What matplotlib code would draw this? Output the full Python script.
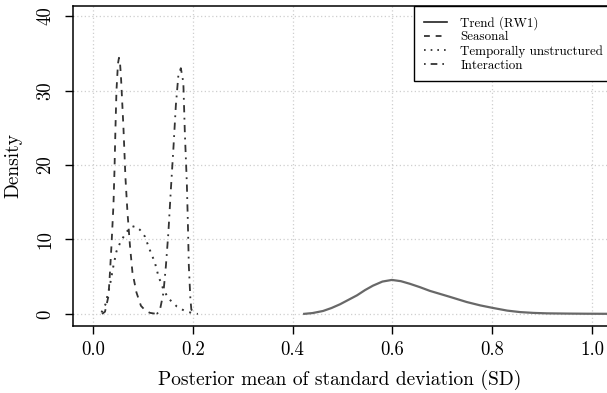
import matplotlib
matplotlib.use("Agg")
import matplotlib.pyplot as plt
from matplotlib.lines import Line2D

plt.rcParams['font.family'] = ['cmr10', 'DejaVu Serif']
plt.rcParams['axes.formatter.use_mathtext'] = True

# posterior densities of the component standard deviations
trend_x = [0.421, 0.44, 0.461, 0.478, 0.495, 0.512, 0.529, 0.545, 0.561, 0.58, 0.599,
           0.617, 0.635, 0.655, 0.675, 0.695, 0.715, 0.749, 0.776, 0.802, 0.83,
           0.856, 0.883, 0.91, 0.95, 0.99, 1.03]
trend_y = [0.0, 0.12, 0.4, 0.8, 1.3, 1.9, 2.5, 3.2, 3.8, 4.35, 4.57,
           4.4, 4.05, 3.6, 3.1, 2.7, 2.3, 1.6, 1.15, 0.8, 0.45,
           0.25, 0.14, 0.08, 0.05, 0.03, 0.02]

seasonal_x = [0.018, 0.024, 0.031, 0.034, 0.037, 0.041, 0.043, 0.045, 0.047, 0.05,
              0.052, 0.054, 0.056, 0.061, 0.065, 0.069, 0.074, 0.079, 0.087,
              0.096, 0.105, 0.114, 0.128]
seasonal_y = [0.0, 0.3, 2.4, 5.6, 9.2, 14.7, 19.2, 25.0, 30.0, 33.6,
              34.4, 33.8, 31.9, 25.0, 18.3, 13.7, 9.2, 5.6, 2.9,
              1.1, 0.45, 0.15, 0.0]

unstructured_x = [0.017, 0.025, 0.034, 0.041, 0.047, 0.054, 0.064, 0.074, 0.084,
                  0.094, 0.104, 0.112, 0.124, 0.131, 0.141, 0.151, 0.168,
                  0.184, 0.201, 0.21]
unstructured_y = [0.2, 1.3, 3.9, 6.5, 8.4, 9.5, 10.7, 11.6, 11.8,
                  11.3, 10.4, 8.9, 6.9, 5.1, 3.3, 2.1, 1.0,
                  0.4, 0.08, 0.0]

interaction_x = [0.128, 0.134, 0.141, 0.146, 0.151, 0.156, 0.161, 0.166, 0.171,
                 0.176, 0.181, 0.184, 0.188, 0.19, 0.192, 0.195, 0.197, 0.204]
interaction_y = [0.0, 0.5, 2.8, 6.4, 10.9, 16.7, 22.1, 28.0, 32.0,
                 33.0, 31.1, 24.4, 17.6, 12.5, 6.5, 2.2, 0.6, 0.0]

legend_labels = ['Trend (RW1)', 'Seasonal', 'Temporally unstructured', 'Interaction']
x_ticks = [0.0, 0.2, 0.4, 0.6, 0.8, 1.0]
y_ticks = [0, 10, 20, 30, 40]

dark = '#333333'
trend_col = '#686868'
dashed = (0, (3.5, 3.5))
dotted = (0, (1, 3))
dashdot = (0, (1, 3, 4, 3))

W, H = 607, 393
fig = plt.figure(figsize=(W / 100, H / 100), dpi=100)
# plot box in pixels: left 73, top 6, bottom 325.5, runs off the right edge
ax = fig.add_axes([73 / W, 1 - 325.5 / H, 1 - 73 / W, (325.5 - 6) / H])

ax.grid(True, color='#cfcfcf', linestyle=(0, (1, 2)), linewidth=0.9)
ax.set_axisbelow(True)

ax.plot(trend_x, trend_y, color=trend_col, lw=1.6, solid_capstyle='butt')
ax.plot(seasonal_x, seasonal_y, color=dark, lw=1.3, linestyle=dashed)
ax.plot(unstructured_x, unstructured_y, color=dark, lw=1.4, linestyle=dotted)
ax.plot(interaction_x, interaction_y, color=dark, lw=1.3, linestyle=dashdot)

ax.set_xlim(-0.0401, 1.030)
ax.set_ylim(-1.55, 41.35)
ax.set_xticks(x_ticks)
ax.set_xticklabels([f'{v:.1f}' for v in x_ticks])
ax.set_yticks(y_ticks)
ax.set_yticklabels([str(v) for v in y_ticks], rotation=90, va='center')
ax.tick_params(direction='out', length=5.6, width=1, labelsize=13.5)
ax.tick_params(axis='x', pad=5.5)
ax.tick_params(axis='y', pad=8)

for side in ['left', 'bottom', 'top']:
    ax.spines[side].set_linewidth(1.1)
ax.spines['right'].set_visible(False)

ax.set_xlabel('Posterior mean of standard deviation (SD)', fontsize=14, labelpad=8)
ax.set_ylabel('Density', fontsize=14, labelpad=10)

handles = [Line2D([], [], color='#222222', lw=1.2),
           Line2D([], [], color='#222222', lw=1.2, linestyle=dashed),
           Line2D([], [], color='#222222', lw=1.2, linestyle=dotted),
           Line2D([], [], color='#222222', lw=1.2, linestyle=dashdot)]
leg = ax.legend(handles, legend_labels, loc='upper left',
                bbox_to_anchor=((414 - 73) / (W - 73), 1.0),
                fontsize=9.4, frameon=True, fancybox=False, borderaxespad=0,
                handlelength=1.8, handletextpad=1.0, labelspacing=0.13,
                borderpad=0.75)
leg.get_frame().set_edgecolor('black')
leg.get_frame().set_linewidth(1.0)
leg.get_frame().set_alpha(1)

fig.savefig('out.png', dpi=100)
